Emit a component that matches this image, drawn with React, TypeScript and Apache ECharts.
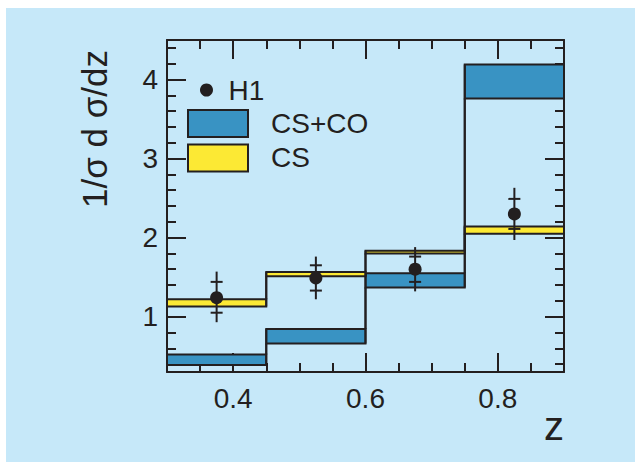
import React, { useEffect, useRef } from "react";
import * as echarts from "echarts";

// ---- data ----
const binEdges = [0.3, 0.45, 0.6, 0.75, 0.9];
const csCoLow = [0.39, 0.66, 1.37, 3.76];
const csCoHigh = [0.52, 0.845, 1.55, 4.19];
const csLow = [1.13, 1.51, 1.8, 2.05];
const csHigh = [1.22, 1.565, 1.835, 2.14];
const h1Z = [0.375, 0.525, 0.675, 0.825];
const h1Value = [1.24, 1.49, 1.6, 2.3];
const h1StatLow = [1.05, 1.33, 1.44, 2.11];
const h1StatHigh = [1.44, 1.65, 1.76, 2.49];
const h1TotLow = [0.93, 1.22, 1.32, 1.97];
const h1TotHigh = [1.57, 1.76, 1.88, 2.63];
const xMajorTicks = [0.4, 0.6, 0.8];
const xMinorTicks = [0.35, 0.45, 0.5, 0.55, 0.65, 0.7, 0.75, 0.85];
const yMajorTicks = [1, 2, 3, 4];
const yMinorTicks = [0.4, 0.6, 0.8, 1.2, 1.4, 1.6, 1.8, 2.2, 2.4, 2.6, 2.8, 3.2, 3.4, 3.6, 3.8, 4.2, 4.4];
const seriesNames = ["H1", "CS+CO", "CS"];
const xTitle = "z";
const yTitle = "1/\u03c3 d \u03c3/dz";

const INK = "#231f20";
const BLUE = "#3993c3";
const YELLOW = "#fce934";
const BG = "#c6e8f9";
const FONT = '"Liberation Sans", Arial, Helvetica, sans-serif';

function bandRows(lo: number[], hi: number[]) {
  return lo.map((l, i) => [
    binEdges[i],
    binEdges[i + 1],
    l,
    hi[i],
    i > 0 ? lo[i - 1] : l,
    i > 0 ? hi[i - 1] : hi[i],
  ]);
}

const renderBand = (color: string) => (params: any, api: any) => {
  const x0 = api.value(0);
  const x1 = api.value(1);
  const lo = api.value(2);
  const hi = api.value(3);
  const pLo = api.value(4);
  const pHi = api.value(5);
  const tl = api.coord([x0, hi]);
  const br = api.coord([x1, lo]);
  const children: any[] = [
    {
      type: "rect",
      shape: { x: tl[0], y: tl[1], width: br[0] - tl[0], height: br[1] - tl[1] },
      style: { fill: color, stroke: INK, lineWidth: 2 },
    },
  ];
  if (params.dataIndex > 0) {
    const a = api.coord([x0, pHi]);
    const b = api.coord([x0, hi]);
    const c = api.coord([x0, pLo]);
    const d = api.coord([x0, lo]);
    children.push({ type: "line", shape: { x1: a[0], y1: a[1], x2: b[0], y2: b[1] }, style: { stroke: INK, lineWidth: 2 } });
    children.push({ type: "line", shape: { x1: c[0], y1: c[1], x2: d[0], y2: d[1] }, style: { stroke: INK, lineWidth: 2 } });
  }
  return { type: "group", children };
};

const renderErr = (params: any, api: any) => {
  const x = api.value(0);
  const top = api.coord([x, api.value(3)]);
  const bot = api.coord([x, api.value(2)]);
  const sl = api.coord([x, api.value(4)]);
  const sh = api.coord([x, api.value(5)]);
  const w = 6;
  const st = { stroke: INK, lineWidth: 2 };
  return {
    type: "group",
    children: [
      { type: "line", shape: { x1: top[0], y1: top[1], x2: bot[0], y2: bot[1] }, style: st },
      { type: "line", shape: { x1: sl[0] - w, y1: sl[1], x2: sl[0] + w, y2: sl[1] }, style: st },
      { type: "line", shape: { x1: sh[0] - w, y1: sh[1], x2: sh[0] + w, y2: sh[1] }, style: st },
    ],
  };
};

function xAx(position: string, ticks: number[], len: number, major: boolean, labels: boolean) {
  const ax: any = {
    type: "value",
    position,
    min: 0.3,
    max: 0.9,
    axisLine: { show: major, onZero: false, lineStyle: { color: INK, width: 2 } },
    axisTick: { show: true, inside: true, length: len, customValues: ticks, lineStyle: { color: INK, width: 2 } },
    axisLabel: labels
      ? { show: true, customValues: ticks, formatter: (v: number) => v.toFixed(1), fontSize: 28, color: INK, fontFamily: FONT, margin: 12 }
      : { show: false },
    splitLine: { show: false },
  };
  return ax;
}

function yAx(position: string, ticks: number[], len: number, major: boolean, labels: boolean) {
  const ax: any = {
    type: "value",
    position,
    min: 0.3,
    max: 4.5,
    axisLine: { show: major, onZero: false, lineStyle: { color: INK, width: 2 } },
    axisTick: { show: true, inside: true, length: len, customValues: ticks, lineStyle: { color: INK, width: 2 } },
    axisLabel: labels
      ? { show: true, customValues: ticks, formatter: (v: number) => String(v), fontSize: 28, color: INK, fontFamily: FONT, margin: 9, padding: [4, 0, 0, 0] }
      : { show: false },
    splitLine: { show: false },
  };
  return ax;
}

export default function App() {
  const ref = useRef<HTMLDivElement>(null);
  useEffect(() => {
    if (!ref.current) return;
    const chart = echarts.init(ref.current, null, { renderer: "svg" });
    const xMain = xAx("bottom", xMajorTicks, 19, true, true);
    xMain.name = xTitle;
    xMain.nameLocation = "end";
    xMain.nameGap = 0;
    xMain.nameTextStyle = { fontSize: 40, color: INK, fontFamily: FONT, align: "right", verticalAlign: "top", padding: [34, 0, 0, 0] };
    chart.setOption({
      animation: false,
      backgroundColor: BG,
      textStyle: { fontFamily: FONT },
      grid: { left: 161, right: 71, top: 32, bottom: 90, containLabel: false },
      xAxis: [
        xMain,
        xAx("bottom", xMinorTicks, 9, false, false),
        xAx("top", xMajorTicks, 19, true, false),
        xAx("top", xMinorTicks, 9, false, false),
      ],
      yAxis: [
        yAx("left", yMajorTicks, 19, true, true),
        yAx("left", yMinorTicks, 9, false, false),
        yAx("right", yMajorTicks, 19, true, false),
        yAx("right", yMinorTicks, 9, false, false),
      ],
      legend: [
        {
          data: [seriesNames[0]],
          left: 194,
          top: 68,
          padding: 0,
          icon: "circle",
          itemWidth: 34,
          itemHeight: 13,
          itemStyle: { borderWidth: 0, opacity: 1, color: INK },
          textStyle: { fontSize: 28, color: INK, fontFamily: FONT },
          selectedMode: false,
        },
        {
          data: [seriesNames[1], seriesNames[2]],
          orient: "vertical",
          left: 181,
          top: 101,
          padding: 0,
          icon: "rect",
          itemWidth: 60,
          itemHeight: 27,
          itemGap: 5.4,
          itemStyle: { borderColor: INK, borderWidth: 2 },
          textStyle: { fontSize: 28, color: INK, fontFamily: FONT, padding: [0, 0, 0, 18] },
          selectedMode: false,
        },
      ],
      graphic: [
        {
          type: "text",
          x: 88.5,
          y: 121,
          rotation: Math.PI / 2,
          style: { text: yTitle, fontSize: 35, fontFamily: FONT, fill: INK, textAlign: "center", textVerticalAlign: "middle" },
        },
      ],
      series: [
        {
          name: seriesNames[1],
          type: "custom",
          renderItem: renderBand(BLUE),
          itemStyle: { color: BLUE, borderColor: INK, borderWidth: 2 },
          encode: { x: [0, 1], y: [2, 3] },
          data: bandRows(csCoLow, csCoHigh),
          z: 2,
        },
        {
          name: seriesNames[2],
          type: "custom",
          renderItem: renderBand(YELLOW),
          itemStyle: { color: YELLOW, borderColor: INK, borderWidth: 2 },
          encode: { x: [0, 1], y: [2, 3] },
          data: bandRows(csLow, csHigh),
          z: 3,
        },
        {
          name: "H1 errors",
          type: "custom",
          renderItem: renderErr,
          encode: { x: 0, y: [2, 3] },
          data: h1Z.map((z, i) => [z, h1Value[i], h1TotLow[i], h1TotHigh[i], h1StatLow[i], h1StatHigh[i]]),
          z: 4,
        },
        {
          name: seriesNames[0],
          type: "scatter",
          symbol: "circle",
          symbolSize: 13,
          itemStyle: { color: INK, opacity: 1 },
          data: h1Z.map((z, i) => [z, h1Value[i]]),
          z: 5,
        },
      ],
    });
    return () => chart.dispose();
  }, []);
  return (
    <div style={{ position: "absolute", left: 0, top: 0, width: 635, height: 462, background: "#fff" }}>
      <div ref={ref} style={{ position: "absolute", left: 6, top: 8, width: 629, height: 454 }} />
    </div>
  );
}
